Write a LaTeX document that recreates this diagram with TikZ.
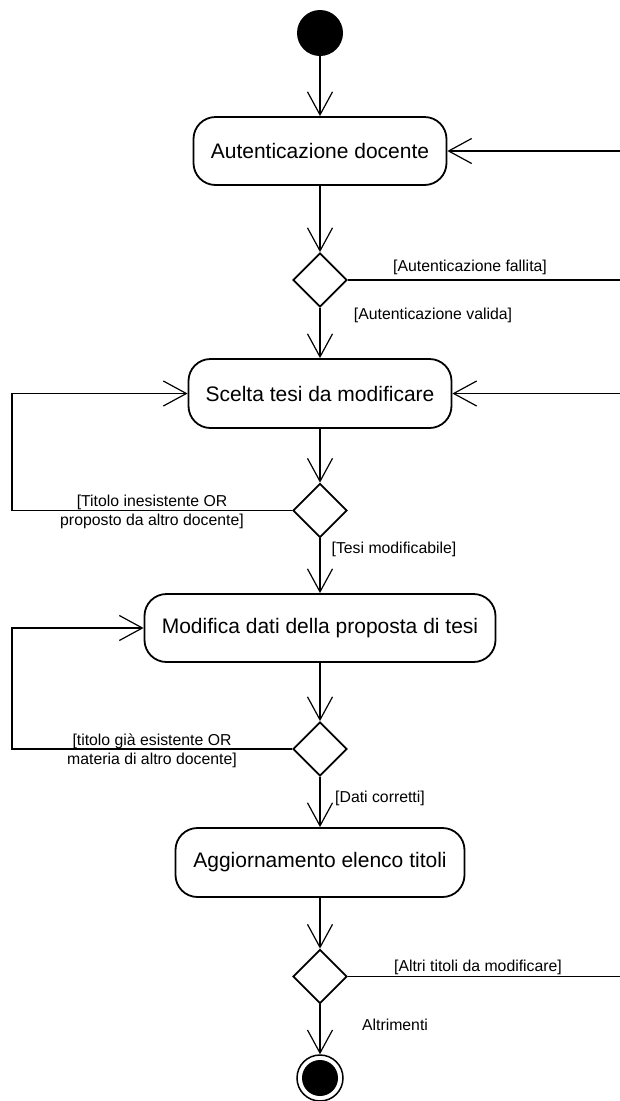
\documentclass[tikz,border=0pt]{standalone}
\usepackage{fontspec}
\setmainfont{Liberation Sans}
\usetikzlibrary{arrows.meta,shapes.geometric}
\begin{document}
\begin{tikzpicture}[x=1pt,y=-1pt,
  activity/.style={draw, line width=1.8pt, rounded corners=22pt, inner sep=0pt,
    font=\fontsize{21}{25}\selectfont},
  choice/.style={draw, diamond, line width=1.8pt, minimum size=54pt, inner sep=0pt, fill=white},
  flow/.style={line width=1.2pt, -{Straight Barb[length=23pt,width=25pt]}},
  plain/.style={line width=1.2pt},
  guard/.style={font=\fontsize{15.8}{19}\selectfont, inner sep=0pt, align=center}]
\useasboundingbox (0,0) rectangle (620,1101);

% initial and final states
\node[circle, fill=black, minimum size=46pt, inner sep=0pt] (start) at (320,33) {};
\node[circle, draw, line width=1.5pt, fill=white, minimum size=46pt, inner sep=0pt] (stop) at (320,1078) {};
\node[circle, fill=black, minimum size=36pt, inner sep=0pt] (stopdot) at (320,1078) {};

% activities
\node[activity, minimum width=253pt, minimum height=68pt] (auth) at (320,151) {Autenticazione docente};
\node[activity, minimum width=263pt, minimum height=69pt] (pick) at (320,393.5) {Scelta tesi da modificare};
\node[activity, minimum width=351pt, minimum height=68pt] (edit) at (320,628) {Modifica dati della proposta di tesi};
\node[activity, minimum width=289pt, minimum height=69pt] (update) at (320,862.5) {Aggiornamento elenco titoli};

% decisions
\node[choice] (d1) at (320,280) {};
\node[choice] (d2) at (320,510.5) {};
\node[choice] (d3) at (320,749) {};
\node[choice] (d4) at (320,976.5) {};

% loose ends at the right border
\coordinate (r1) at (620,151);
\coordinate (r2) at (620,393.5);
\coordinate (r3) at (620,280);
\coordinate (r4) at (620,976.5);
\coordinate (l1) at (12,510.5);
\coordinate (l2) at (12,749);

% main flow
\draw[flow] (start) -- (auth);
\draw[flow] (auth) -- (d1);
\draw[flow] (d1) -- (pick);
\draw[flow] (pick) -- (d2);
\draw[flow] (d2) -- (edit);
\draw[flow] (edit) -- (d3);
\draw[flow] (d3) -- (update);
\draw[flow] (update) -- (d4);
\draw[flow] (d4) -- (stop);

% retries
\draw[plain] (d1.east) -- (r3);
\draw[flow] (r1) -- (auth.east);
\draw[plain] (d4.east) -- (r4);
\draw[flow] (r2) -- (pick.east);
\draw[flow] (d2.west) -- (l1) |- (pick.west);
\draw[flow] (d3.west) -- (l2) |- (edit.west);

% guards
\node[guard] (g1) at (470,267) {[Autenticazione fallita]};
\node[guard] (g2) at (433,315) {[Autenticazione valida]};
\node[guard] (g3) at (152,512) {[Titolo inesistente OR\\proposto da altro docente]};
\node[guard] (g4) at (394,549) {[Tesi modificabile]};
\node[guard] (g5) at (152,751) {[titolo già esistente OR\\materia di altro docente]};
\node[guard] (g6) at (380,798) {[Dati corretti]};
\node[guard] (g7) at (478,967) {[Altri titoli da modificare]};
\node[guard] (g8) at (395,1025) {Altrimenti};
\end{tikzpicture}
\end{document}
